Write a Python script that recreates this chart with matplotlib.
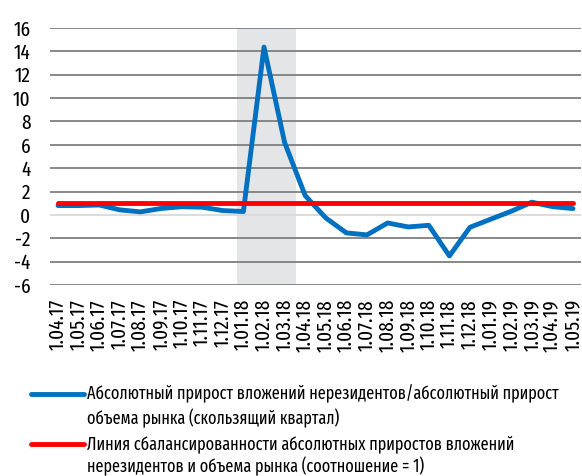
import matplotlib
matplotlib.use("Agg")
import matplotlib.pyplot as plt
from matplotlib import font_manager
from matplotlib.lines import Line2D

# pick a narrow font if there is one
names = set(f.name for f in font_manager.fontManager.ttflist)
family = "DejaVu Sans"
for cand in ["Fira Sans Extra Condensed", "Roboto Condensed", "DejaVu Sans"]:
    if cand in names:
        family = cand
        break
plt.rcParams['font.family'] = [family, 'DejaVu Sans']

dates = ["1.04.17", "1.05.17", "1.06.17", "1.07.17", "1.08.17", "1.09.17",
         "1.10.17", "1.11.17", "1.12.17", "1.01.18", "1.02.18", "1.03.18",
         "1.04.18", "1.05.18", "1.06.18", "1.07.18", "1.08.18", "1.09.18",
         "1.10.18", "1.11.18", "1.12.18", "1.01.19", "1.02.19", "1.03.19",
         "1.04.19", "1.05.19"]
ratio = [0.8, 0.8, 0.85, 0.43, 0.26, 0.55, 0.7, 0.66, 0.37, 0.29, 14.37, 6.2,
         1.65, -0.26, -1.54, -1.71, -0.69, -1.03, -0.89, -3.51, -1.06, -0.37,
         0.31, 1.09, 0.71, 0.54]
balance = [1] * len(dates)
shade_from, shade_to = 8.69, 11.55

label_blue = ["Абсолютный прирост вложений нерезидентов/абсолютный прирост",
              "объема рынка (скользящий квартал)"]
label_red = ["Линия сбалансированности абсолютных приростов вложений",
             "нерезидентов и объема рынка (соотношение = 1)"]

fig = plt.figure(figsize=(5.82, 4.76), dpi=100)
ax = fig.add_axes([50 / 582, 1 - 285 / 476, 531 / 582, 257 / 476])

x = list(range(len(dates)))
ax.axvspan(shade_from, shade_to, color="#e4e5e7", zorder=0, lw=0)
for v in range(-6, 17, 2):
    ax.axhline(v, color="#d9d9d9" if v == 0 else "#7f7f7f", lw=1.3, zorder=1)
ax.plot(x, ratio, color="#0070c0", lw=3.5, solid_joinstyle="round",
        solid_capstyle="round", zorder=3)
ax.plot(x, balance, color="#ff0000", lw=3.5, solid_capstyle="round", zorder=4)

ax.set_xlim(-0.39, 25.39)
ax.set_ylim(-6, 16)
ax.set_yticks(range(-6, 17, 2))
ax.set_yticklabels([str(v) for v in range(-6, 17, 2)])
ax.set_xticks(x)
ax.set_xticklabels(dates, rotation=90, fontsize=15)
ax.tick_params(axis="y", length=0, pad=14, labelsize=15)
ax.tick_params(axis="x", length=0, pad=10)
for s in ax.spines.values():
    s.set_visible(False)

# legend drawn by hand so the handle sits beside the first line
fig.add_artist(Line2D([31 / 582, 84 / 582], [1 - 394 / 476] * 2,
                      color="#0070c0", lw=3.5, solid_capstyle="round"))
fig.add_artist(Line2D([31 / 582, 84 / 582], [1 - 444 / 476] * 2,
                      color="#ff0000", lw=3.5, solid_capstyle="round"))
for lines, ys in [(label_blue, [394, 418]), (label_red, [444, 466])]:
    for s, yy in zip(lines, ys):
        fig.text(87 / 582, 1 - yy / 476, s, fontsize=12.7, va="center")

fig.savefig("out.png", dpi=100)
